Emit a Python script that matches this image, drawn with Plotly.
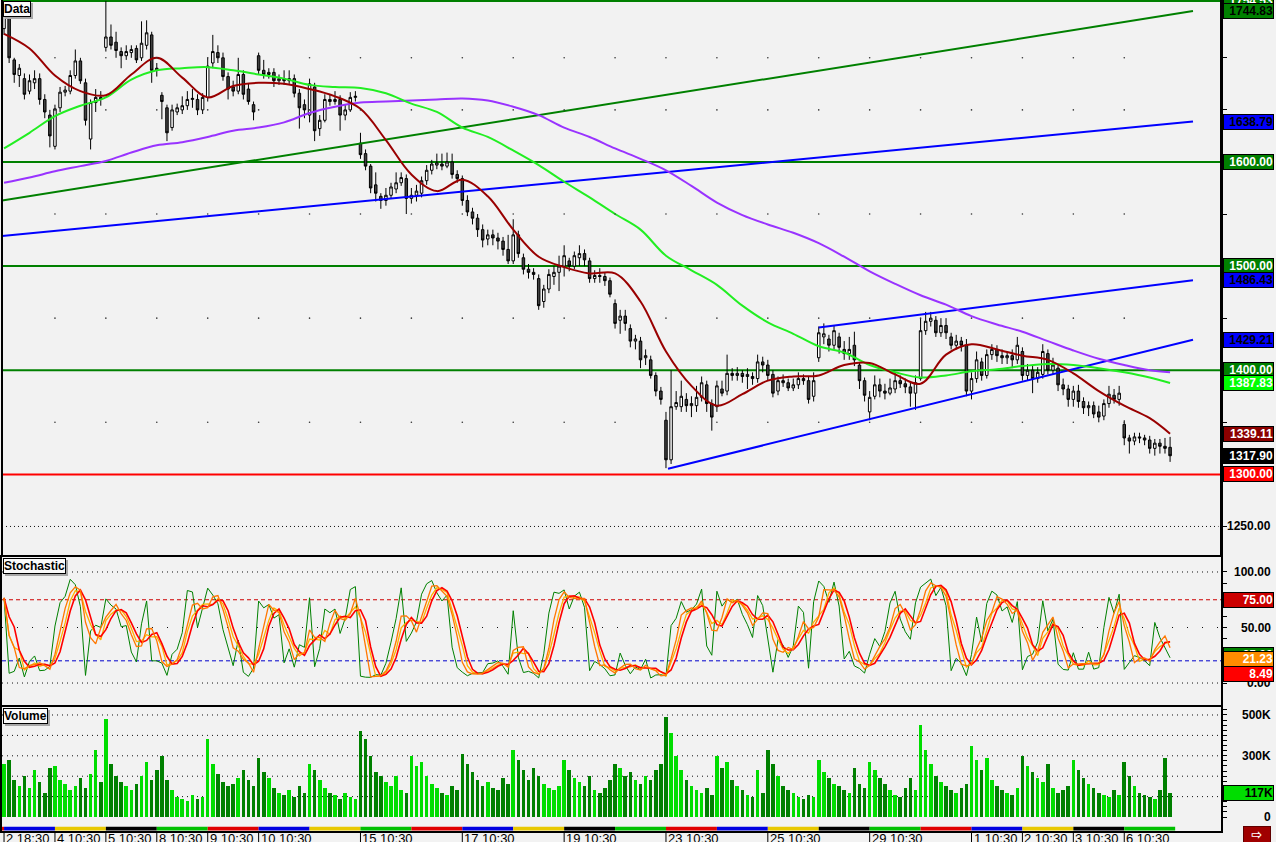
import plotly.graph_objects as go

# ---------------- data ----------------
BARS_PER_DAY = 10
day_labels = ["2 18:30", "4 10:30", "5 10:30", "8 10:30", "9 10:30", "10 10:30", "",
              "15 10:30", "", "17 10:30", "", "19 10:30", "", "23 10:30", "", "25 10:30", "",
              "29 10:30", "", "1 10:30", "2 10:30", "3 10:30", "6 10:30"]
day_colors = ["#0000e0", "#e8c800", "#000000", "#00c000", "#e00000", "#0000e0", "#e8c800",
              "#00c000", "#e00000", "#0000e0", "#e8c800", "#000000", "#00c000", "#e00000",
              "#0000e0", "#e8c800", "#000000", "#00c000", "#e00000", "#0000e0", "#e8c800",
              "#000000", "#00c000"]

opens = [
    1728, 1740, 1698, 1683, 1680, 1668, 1676, 1680, 1660, 1645,
    1615, 1652, 1667, 1668, 1683, 1697, 1676, 1622, 1657, 1662,
    1710, 1720, 1715, 1706, 1702, 1705, 1709, 1700, 1712, 1722,
    1690, 1664, 1652, 1633, 1648, 1650, 1654, 1660, 1660, 1650,
    1662, 1695, 1705, 1700, 1682, 1672, 1668, 1684, 1670, 1655,
    1702, 1688, 1684, 1686, 1678, 1680, 1678, 1680, 1666, 1655,
    1645, 1672, 1632, 1640, 1660, 1658, 1660, 1645, 1650, 1662,
    1618, 1608, 1596, 1578, 1567, 1563, 1568, 1574, 1580, 1584,
    1565, 1568, 1570, 1582, 1592, 1597, 1598, 1596, 1600, 1588,
    1584, 1563, 1552, 1546, 1535, 1526, 1530, 1527, 1524, 1516,
    1505, 1530, 1508, 1497, 1494, 1488, 1466, 1478, 1490, 1494,
    1500, 1505, 1500, 1508, 1512, 1505, 1488, 1491, 1490, 1486,
    1464, 1448, 1452, 1440, 1428, 1428, 1412, 1410, 1395, 1380,
    1352, 1314, 1365, 1365, 1372, 1366, 1366, 1374, 1386, 1368,
    1365, 1382, 1380, 1397, 1395, 1397, 1394, 1394, 1392, 1408,
    1405, 1396, 1380, 1390, 1388, 1383, 1386, 1392, 1390, 1375,
    1412, 1432, 1430, 1424, 1432, 1420, 1416, 1424, 1405, 1390,
    1360, 1375, 1386, 1380, 1378, 1382, 1390, 1387, 1384, 1378,
    1392, 1438, 1447, 1448, 1436, 1443, 1432, 1424, 1428, 1424,
    1380, 1392, 1408, 1395, 1415, 1420, 1414, 1412, 1414, 1410,
    1418, 1395, 1400, 1392, 1396, 1416, 1400, 1402, 1386, 1382,
    1372, 1380, 1370, 1364, 1366, 1360, 1356, 1368, 1376, 1372,
    1348, 1335, 1332, 1336, 1335, 1333, 1325, 1330, 1327, 1326,
]
highs = [
    1752, 1742, 1700, 1694, 1685, 1684, 1688, 1685, 1665, 1650,
    1655, 1672, 1673, 1688, 1708, 1700, 1680, 1660, 1670, 1668,
    1754.53, 1732, 1725, 1710, 1712, 1712, 1712, 1735, 1736, 1725,
    1695, 1667, 1655, 1655, 1656, 1663, 1668, 1670, 1665, 1666,
    1700, 1722, 1712, 1705, 1686, 1678, 1700, 1688, 1675, 1658,
    1705, 1698, 1690, 1690, 1684, 1688, 1688, 1684, 1670, 1660,
    1680, 1676, 1645, 1665, 1665, 1668, 1664, 1655, 1667, 1668,
    1628, 1612, 1598, 1590, 1570, 1575, 1580, 1590, 1590, 1588,
    1575, 1578, 1586, 1597, 1602, 1608, 1608, 1609, 1608, 1592,
    1587, 1568, 1556, 1550, 1540, 1535, 1535, 1532, 1528, 1530,
    1545, 1534, 1512, 1502, 1498, 1492, 1482, 1497, 1500, 1510,
    1520, 1508, 1514, 1520, 1516, 1508, 1496, 1498, 1494, 1489,
    1468, 1458, 1458, 1444, 1434, 1432, 1420, 1414, 1398, 1384,
    1360, 1400, 1380, 1390, 1378, 1375, 1385, 1394, 1390, 1372,
    1390, 1390, 1415, 1402, 1403, 1400, 1402, 1398, 1415, 1413,
    1410, 1400, 1394, 1396, 1392, 1392, 1398, 1396, 1394, 1398,
    1442, 1445, 1434, 1443, 1436, 1428, 1432, 1437, 1408, 1393,
    1380, 1395, 1392, 1387, 1392, 1398, 1395, 1392, 1388, 1395,
    1450, 1456, 1456, 1452, 1450, 1450, 1436, 1434, 1432, 1430,
    1398, 1418, 1412, 1420, 1425, 1424, 1420, 1418, 1420, 1432,
    1422, 1406, 1405, 1403, 1425, 1420, 1412, 1406, 1392, 1386,
    1385, 1386, 1374, 1370, 1370, 1366, 1372, 1385, 1382, 1385,
    1352, 1338, 1340, 1340, 1338, 1337, 1334, 1334, 1335, 1336,
]
lows = [
    1722, 1695, 1676, 1672, 1660, 1665, 1670, 1655, 1642, 1614,
    1612, 1648, 1663, 1665, 1680, 1675, 1635, 1612, 1648, 1654,
    1706, 1708, 1700, 1690, 1698, 1700, 1695, 1697, 1708, 1676,
    1682, 1641, 1620, 1630, 1645, 1646, 1650, 1652, 1645, 1646,
    1658, 1690, 1695, 1678, 1660, 1663, 1665, 1660, 1655, 1640,
    1684, 1680, 1680, 1672, 1674, 1674, 1675, 1662, 1632, 1642,
    1638, 1620, 1625, 1638, 1654, 1655, 1630, 1640, 1648, 1658,
    1603, 1592, 1570, 1562, 1555, 1558, 1565, 1570, 1577, 1550,
    1560, 1562, 1566, 1578, 1588, 1593, 1592, 1594, 1584, 1580,
    1558, 1548, 1540, 1528, 1518, 1520, 1520, 1516, 1510, 1502,
    1502, 1508, 1492, 1488, 1487, 1458, 1460, 1474, 1482, 1476,
    1490, 1495, 1497, 1500, 1500, 1484, 1484, 1484, 1481, 1470,
    1440, 1435, 1438, 1422, 1420, 1402, 1405, 1392, 1375, 1367,
    1306, 1310, 1362, 1360, 1360, 1355, 1360, 1370, 1360, 1342,
    1360, 1375, 1376, 1390, 1390, 1388, 1382, 1386, 1388, 1398,
    1390, 1374, 1376, 1384, 1380, 1380, 1382, 1386, 1368, 1370,
    1408, 1425, 1418, 1420, 1416, 1410, 1410, 1404, 1382, 1370,
    1352, 1372, 1374, 1372, 1376, 1378, 1383, 1378, 1365, 1362,
    1390, 1434, 1442, 1432, 1432, 1430, 1420, 1420, 1418, 1375,
    1372, 1388, 1390, 1392, 1410, 1408, 1406, 1406, 1402, 1406,
    1390, 1390, 1378, 1388, 1392, 1396, 1396, 1380, 1376, 1365,
    1365, 1364, 1358, 1356, 1354, 1350, 1352, 1364, 1368, 1366,
    1328, 1320, 1328, 1330, 1328, 1320, 1318, 1320, 1320, 1312,
]
closes = [
    1745, 1700, 1684, 1690, 1665, 1678, 1680, 1660, 1648, 1625,
    1651, 1667, 1669, 1683, 1697, 1678, 1640, 1657, 1662, 1660,
    1720, 1712, 1707, 1702, 1706, 1708, 1698, 1714, 1724, 1688,
    1688, 1658, 1628, 1650, 1652, 1654, 1660, 1661, 1650, 1662,
    1692, 1706, 1700, 1682, 1670, 1668, 1684, 1665, 1658, 1648,
    1688, 1684, 1686, 1678, 1680, 1678, 1680, 1666, 1652, 1650,
    1675, 1630, 1640, 1660, 1658, 1660, 1645, 1650, 1662, 1663,
    1607, 1596, 1575, 1570, 1563, 1568, 1576, 1580, 1585, 1565,
    1568, 1572, 1582, 1592, 1598, 1599, 1596, 1600, 1588, 1584,
    1563, 1552, 1546, 1535, 1525, 1530, 1527, 1524, 1516, 1505,
    1530, 1512, 1497, 1494, 1492, 1462, 1478, 1492, 1494, 1500,
    1510, 1500, 1510, 1512, 1506, 1488, 1491, 1490, 1486, 1473,
    1445, 1452, 1445, 1428, 1430, 1410, 1414, 1395, 1380, 1372,
    1314, 1365, 1369, 1375, 1366, 1368, 1374, 1388, 1368, 1355,
    1385, 1378, 1397, 1395, 1397, 1394, 1396, 1392, 1408, 1405,
    1395, 1378, 1390, 1388, 1383, 1386, 1392, 1390, 1372, 1390,
    1436, 1435, 1424, 1438, 1422, 1416, 1420, 1410, 1390, 1376,
    1374, 1386, 1380, 1378, 1383, 1390, 1387, 1384, 1378, 1388,
    1438, 1447, 1450, 1436, 1443, 1436, 1424, 1428, 1424, 1380,
    1392, 1410, 1395, 1415, 1420, 1414, 1412, 1414, 1410, 1424,
    1395, 1400, 1392, 1398, 1418, 1400, 1405, 1386, 1382, 1372,
    1380, 1370, 1364, 1366, 1358, 1355, 1368, 1377, 1372, 1378,
    1335, 1332, 1336, 1335, 1333, 1325, 1330, 1327, 1325, 1317.90,
]
volume_k = [
    260, 280, 180, 150, 200, 140, 230, 170, 120, 240,
    250, 180, 160, 130, 150, 190, 140, 210, 330, 170,
    480, 260, 200, 170, 150, 130, 160, 200, 270, 180,
    230, 300, 180, 130, 100, 90, 80, 110, 90, 100,
    380, 260, 210, 170, 150, 160, 190, 230, 180, 150,
    290, 220, 190, 140, 120, 110, 130, 100, 150, 120,
    260, 230, 180, 140, 120, 110, 90, 120, 100, 90,
    420, 380, 300, 220, 200, 170, 150, 200, 130, 120,
    300, 250, 270, 200, 160, 140, 120, 110, 150, 130,
    310, 260, 220, 180, 150, 170, 140, 130, 190, 160,
    330, 280, 230, 180, 240, 200, 160, 140, 130, 150,
    280, 230, 190, 170, 150, 200, 130, 120, 140, 180,
    260, 240, 200, 220, 180, 160, 200, 180, 230, 260,
    490, 410, 300, 230, 180, 150, 130, 120, 140, 110,
    300, 240, 270, 180, 150, 130, 110, 100, 230, 120,
    330, 260, 200, 150, 130, 120, 100, 90, 110, 100,
    280, 220, 190, 160, 150, 130, 120, 240, 160, 140,
    270, 230, 190, 160, 130, 110, 100, 140, 190, 130,
    450, 330, 260, 200, 170, 150, 130, 120, 140, 160,
    350, 280, 230, 290, 180, 150, 130, 120, 110, 140,
    300, 250, 220, 190, 170, 260, 140, 120, 130, 150,
    280, 230, 190, 160, 140, 120, 110, 100, 130, 110,
    270, 200, 150, 120, 110, 100, 90, 130, 290, 117,
]

ma_index = list(range(0, 230, 5)) + [229]
ma_fast = [1723, 1709, 1683, 1668, 1664, 1684, 1700, 1681, 1662, 1673,
           1676, 1675, 1670, 1663, 1651, 1621, 1588, 1572, 1583, 1567,
           1535, 1509, 1499, 1493, 1493, 1466, 1418, 1385, 1366, 1377,
           1390, 1394, 1395, 1405, 1407, 1396, 1387, 1415, 1425, 1420,
           1414, 1410, 1397, 1380, 1366, 1354, 1339.11]
ma_mid = [1613, 1628, 1644, 1654, 1662, 1679, 1688, 1690, 1691, 1688,
          1684, 1680, 1674, 1672, 1671, 1666, 1656, 1648, 1633, 1624,
          1611, 1597, 1581, 1566, 1550, 1535, 1510, 1496, 1482, 1462,
          1446, 1435, 1423, 1417, 1405, 1398, 1393, 1395, 1399, 1401,
          1404, 1406, 1405, 1402, 1398, 1393, 1387.83]
ma_slow = [1580, 1585, 1591, 1596, 1601, 1609, 1616, 1619, 1624, 1630,
           1633, 1638, 1647, 1653, 1657, 1658, 1659, 1660, 1661, 1659,
           1653, 1645, 1633, 1624, 1613, 1603, 1592, 1577, 1561, 1549,
           1540, 1532, 1522, 1509, 1495, 1483, 1472, 1463, 1452, 1444,
           1437, 1428, 1419, 1411, 1405, 1400, 1398]

# drawn trend lines: (start bar, start price, end bar, end price)
trend_green = (-0.4, 1563.0, 233.5, 1744.83)
trend_blue = (-0.4, 1529.0, 233.5, 1638.79)
channel_top = (160.0, 1441.0, 233.5, 1486.43)
channel_bottom = (130.4, 1305.5, 233.5, 1429.21)

hlines = [1754.53, 1600.00, 1500.00, 1400.00, 1300.00]
hline_colors = ["#008000", "#008000", "#008000", "#008000", "#ff0000"]

stoch_levels = [75, 20]
stoch_labels = ["75.00", "25.00", "21.23", "8.49"]
stoch_label_vals = [75.0, 25.0, 21.23, 8.49]
stoch_label_bg = ["#cc0000", "#008000", "#ff8c00", "#ff0000"]

main_label_vals = [1754.53, 1744.83, 1638.79, 1600.00, 1500.00, 1486.43, 1429.21,
                   1400.00, 1387.83, 1339.11, 1317.90, 1300.00]
main_label_bg = ["#008000", "#008000", "#0000ff", "#008000", "#008000", "#0000ff", "#0000ff",
                 "#008000", "#00ff00", "#8b0000", "#000000", "#ff0000"]
main_label_fg = ["white", "black", "black", "white", "white", "black", "black",
                 "white", "white", "white", "white", "white"]
grid_levels = [1700, 1650, 1550, 1450, 1350]

# ---------------- derived ----------------
n = len(closes)
idx = list(range(n))
volume = [v * 1000 for v in volume_k]
vol_colors = ["#00dd00" if c >= o else "#008000" for o, c in zip(opens, closes)]


def sma(a, p):
    out = []
    for i in range(len(a)):
        w = a[max(0, i - p + 1):i + 1]
        out.append(sum(w) / len(w))
    return out


def stoch_k(p):
    out = []
    for i in range(n):
        lo = min(lows[max(0, i - p + 1):i + 1])
        hi = max(highs[max(0, i - p + 1):i + 1])
        out.append(100 * (closes[i] - lo) / (hi - lo) if hi > lo else 50)
    return out


k_fast = stoch_k(6)
d_orange = sma(k_fast, 3)
d_gold = sma(k_fast, 4)
d_red = sma(d_orange, 3)

# ---------------- figure ----------------
FONT = "Liberation Sans, Arial, sans-serif"
BG = "#f2f2f2"
XR = [-0.4, 239.0]
VOL_RANGE = [-68600, 539200]

fig = go.Figure()

fig.add_trace(go.Candlestick(
    x=idx, open=opens, high=highs, low=lows, close=closes,
    increasing=dict(line=dict(color="black", width=1), fillcolor="white"),
    decreasing=dict(line=dict(color="black", width=1), fillcolor="#404040"),
    whiskerwidth=0, xaxis="x", yaxis="y", hoverinfo="skip", showlegend=False))

for (x0, y0, x1, y1), col in [(trend_green, "#008000"), (trend_blue, "#0000ff"),
                               (channel_top, "#0000ff"), (channel_bottom, "#0000ff")]:
    fig.add_trace(go.Scatter(x=[x0, x1], y=[y0, y1], mode="lines",
                             line=dict(color=col, width=2), xaxis="x", yaxis="y",
                             hoverinfo="skip", showlegend=False))

for vals, col in [(ma_slow, "#9933ff"), (ma_mid, "#22ee22"), (ma_fast, "#990000")]:
    fig.add_trace(go.Scatter(x=ma_index, y=vals, mode="lines", line_shape="spline",
                             line=dict(color=col, width=2), xaxis="x", yaxis="y",
                             hoverinfo="skip", showlegend=False))

gx, gy = [], []
for d in range(1, len(day_labels)):
    for lv in grid_levels:
        gx.append(d * BARS_PER_DAY)
        gy.append(lv)
fig.add_trace(go.Scatter(x=gx, y=gy, mode="markers", marker=dict(size=1.6, color="#333"),
                         xaxis="x", yaxis="y", hoverinfo="skip", showlegend=False))

# stochastic
fig.add_trace(go.Scatter(x=idx, y=k_fast, mode="lines", line=dict(color="#008000", width=1),
                         xaxis="x2", yaxis="y2", hoverinfo="skip", showlegend=False))
fig.add_trace(go.Scatter(x=idx, y=d_gold, mode="lines", line=dict(color="#ffb000", width=1.3),
                         xaxis="x2", yaxis="y2", hoverinfo="skip", showlegend=False))
fig.add_trace(go.Scatter(x=idx, y=d_red, mode="lines", line=dict(color="#ff0000", width=1.6),
                         xaxis="x2", yaxis="y2", hoverinfo="skip", showlegend=False))
fig.add_trace(go.Scatter(x=idx, y=d_orange, mode="lines", line=dict(color="#ff7700", width=1.3),
                         xaxis="x2", yaxis="y2", hoverinfo="skip", showlegend=False))

# volume
fig.add_trace(go.Bar(x=idx, y=volume, marker=dict(color=vol_colors, line=dict(width=0)),
                     width=0.7, xaxis="x3", yaxis="y3", hoverinfo="skip", showlegend=False))

shapes = []
for lv, col in zip(hlines, hline_colors):
    shapes.append(dict(type="line", xref="x domain", yref="y", x0=0, x1=1, y0=lv, y1=lv,
                       line=dict(color=col, width=2), layer="below"))
shapes.append(dict(type="line", xref="x domain", yref="y", x0=0, x1=0.998, y0=1250, y1=1250,
                   line=dict(color="#111", width=1, dash="1px,3px")))
for lv, col in zip(stoch_levels, ["#cc0000", "#0000cc"]):
    shapes.append(dict(type="line", xref="x2 domain", yref="y2", x0=0, x1=1, y0=lv, y1=lv,
                       line=dict(color=col, width=1, dash="4px,3px"), layer="below"))
for lv, dash in [(100, "1px,4px"), (0, "1px,4px"), (50, "1px,14px")]:
    shapes.append(dict(type="line", xref="x2 domain", yref="y2", x0=0, x1=0.998, y0=lv, y1=lv,
                       line=dict(color="#111", width=1, dash=dash), layer="below"))
for lv in [100000, 200000, 300000, 400000, 500000]:
    shapes.append(dict(type="line", xref="x3 domain", yref="y3", x0=0, x1=0.998, y0=lv, y1=lv,
                       line=dict(color="#111", width=1, dash="1px,4px"), layer="below"))

# weekday colour strip (bottom edge of the volume panel) and day ticks
span = VOL_RANGE[1] - VOL_RANGE[0]
STRIP0 = VOL_RANGE[0] + span * 0.004
STRIP1 = VOL_RANGE[0] + span * 0.034
shapes.append(dict(type="rect", xref="x3", yref="y3", x0=XR[0], x1=0, y0=STRIP0, y1=STRIP1,
                   fillcolor="#e00000", line=dict(width=0), layer="above"))
for d, col in enumerate(day_colors):
    shapes.append(dict(type="rect", xref="x3", yref="y3",
                       x0=d * BARS_PER_DAY, x1=(d + 1) * BARS_PER_DAY, y0=STRIP0, y1=STRIP1,
                       fillcolor=col, line=dict(width=0), layer="above"))

annotations = []
for d, lab in enumerate(day_labels):
    if not lab:
        continue
    shapes.append(dict(type="line", xref="x3", yref="paper", x0=d * BARS_PER_DAY,
                       x1=d * BARS_PER_DAY, y0=0, y1=-0.03, line=dict(color="black", width=1)))
    annotations.append(dict(text=lab, xref="x3", yref="paper", x=d * BARS_PER_DAY, y=0,
                            xanchor="left", yanchor="top", xshift=0, yshift=2, showarrow=False,
                            font=dict(family=FONT, size=13, color="black")))


def plain_label(text, yref, y):
    annotations.append(dict(text="<b>%s</b>" % text, xref="paper", x=1, xanchor="right",
                            xshift=52, yref=yref, y=y, yanchor="middle", showarrow=False,
                            font=dict(family=FONT, size=12, color="black")))


def box_label(text, yref, y, bg, fg):
    annotations.append(dict(text="<b>%s</b>" % text, xref="paper", x=1, xanchor="left",
                            xshift=2, yref=yref, y=y, yanchor="middle", showarrow=False,
                            width=49, align="right", bgcolor=bg, bordercolor="#000",
                            borderwidth=1, borderpad=0,
                            font=dict(family=FONT, size=12, color=fg)))


plain_label("1250.00", "y", 1250)
for v, bg, fg in zip(main_label_vals, main_label_bg, main_label_fg):
    box_label("%.2f" % v, "y", v, bg, fg)

plain_label("100.00", "y2", 100)
plain_label("50.00", "y2", 50)
plain_label("0.00", "y2", 0)
for t, v, bg in zip(stoch_labels, stoch_label_vals, stoch_label_bg):
    box_label(t, "y2", v, bg, "white")

plain_label("500K", "y3", 500000)
plain_label("300K", "y3", 300000)
plain_label("0", "y3", 0)
box_label("%dK" % volume_k[-1], "y3", volume[-1], "#00dd00", "black")

D_MAIN = [0.33213, 1.0]
D_STO = [0.15162, 0.32972]
D_VOL = [0.0, 0.14922]

for text, ytop in [("Data", D_MAIN[1]), ("Stochastic", D_STO[1]), ("Volume", D_VOL[1])]:
    annotations.append(dict(text="<b>%s</b>" % text, xref="paper", yref="paper", x=0, y=ytop,
                            xanchor="left", yanchor="top", xshift=3, yshift=-3, showarrow=False,
                            bgcolor="#a8a8a8", bordercolor="#a8a8a8", borderwidth=1, borderpad=0,
                            font=dict(family=FONT, size=12, color="#a8a8a8")))
    annotations.append(dict(text="<b>%s</b>" % text, xref="paper", yref="paper", x=0, y=ytop,
                            xanchor="left", yanchor="top", xshift=1, yshift=-1, showarrow=False,
                            bgcolor="#fafafa", bordercolor="#000", borderwidth=1, borderpad=0,
                            font=dict(family=FONT, size=12, color="black")))

annotations.append(dict(text="<b>⇨</b>", xref="paper", yref="paper", x=1, y=0, xanchor="left",
                        yanchor="top", xshift=22, yshift=5, showarrow=False, width=26,
                        bgcolor="#a00000", bordercolor="#600000", borderwidth=1, borderpad=0,
                        font=dict(family="DejaVu Sans", size=13, color="white")))

axis_common = dict(showgrid=False, zeroline=False, showline=True, linecolor="black",
                   linewidth=2, range=XR, showticklabels=False, ticks="")
yaxis_common = dict(showgrid=False, zeroline=False, showline=True, linecolor="black",
                    linewidth=2, mirror=True, side="right", showticklabels=False,
                    ticks="outside", ticklen=4, tickcolor="black", tickwidth=1)

fig.update_layout(
    width=1276, height=842,
    margin=dict(l=0, r=55, t=0, b=11),
    paper_bgcolor=BG, plot_bgcolor=BG,
    showlegend=False, bargap=0,
    xaxis=dict(axis_common, domain=[0, 1], anchor="y", rangeslider=dict(visible=False)),
    xaxis2=dict(axis_common, domain=[0, 1], anchor="y2", mirror=True),
    xaxis3=dict(axis_common, domain=[0, 1], anchor="y3", mirror=True),
    yaxis=dict(yaxis_common, domain=D_MAIN, anchor="x", range=[1222.6, 1755.5], mirror=False,
               tickvals=list(range(1250, 1701, 50))),
    yaxis2=dict(yaxis_common, domain=D_STO, anchor="x2", range=[-19.8, 113.5],
                tickvals=list(range(0, 101, 10))),
    yaxis3=dict(yaxis_common, domain=D_VOL, anchor="x3", range=VOL_RANGE,
                tickvals=list(range(0, 525001, 25000))),
    shapes=shapes,
    annotations=annotations,
)
# left/right borders of the price panel
fig.add_shape(type="line", xref="paper", yref="paper", x0=0, x1=0, y0=D_MAIN[0], y1=1,
              line=dict(color="black", width=2))
fig.add_shape(type="line", xref="paper", yref="paper", x0=1, x1=1, y0=D_MAIN[0], y1=1,
              line=dict(color="black", width=2))

fig.write_html("out.html", config={"displayModeBar": False},
               post_script="document.body.style.margin='0px';document.body.style.padding='0px';"
                           "document.body.style.overflow='hidden';"
                           "document.body.style.background='%s';" % BG)
